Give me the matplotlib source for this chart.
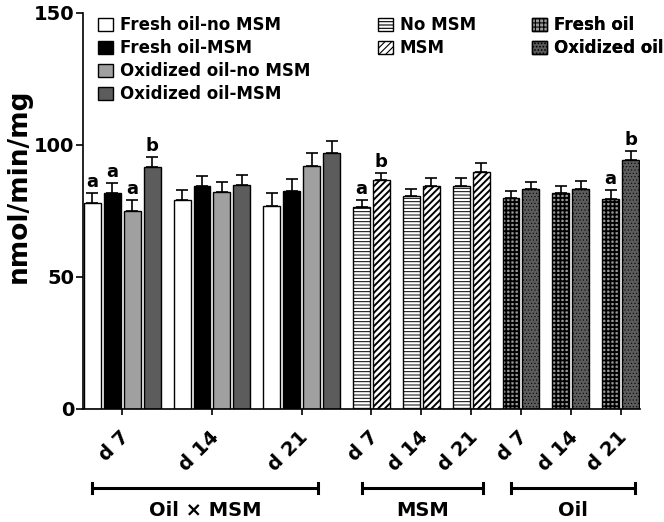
import numpy as np
import matplotlib
matplotlib.use('Agg')
import matplotlib.pyplot as plt
import matplotlib.transforms as mtransforms

plt.rcParams['font.family'] = ['DejaVu Sans']
plt.rcParams['font.weight'] = 'bold'
plt.rcParams['hatch.linewidth'] = 0.8

days = ['d 7', 'd 14', 'd 21']

# Oil x MSM section
oxm_names = ['Fresh oil-no MSM', 'Fresh oil-MSM', 'Oxidized oil-no MSM', 'Oxidized oil-MSM']
oxm_vals = [[77.9, 79.2, 76.9],
            [81.7, 84.6, 82.5],
            [75.1, 82.3, 92.0],
            [91.6, 84.7, 97.0]]
oxm_err = [[4.0, 3.8, 4.8],
           [3.9, 3.8, 4.5],
           [4.0, 3.8, 4.9],
           [3.9, 3.9, 4.6]]
oxm_sig = [['a', '', ''], ['a', '', ''], ['a', '', ''], ['b', '', '']]

# MSM main effect
msm_names = ['No MSM', 'MSM']
msm_vals = [[76.4, 80.6, 84.4],
            [86.6, 84.6, 89.8]]
msm_err = [[2.8, 2.7, 3.2],
           [2.8, 2.9, 3.3]]
msm_sig = [['a', '', ''], ['b', '', '']]

# Oil main effect
oil_names = ['Fresh oil', 'Oxidized oil']
oil_vals = [[79.8, 81.8, 79.7],
            [83.2, 83.4, 94.4]]
oil_err = [[2.9, 2.8, 3.2],
           [2.8, 3.0, 3.3]]
oil_sig = [['', '', 'a'], ['', '', 'b']]

section_names = ['Oil \u00d7 MSM', 'MSM', 'Oil']

styles = {
    'Fresh oil-no MSM': dict(color='white', hatch=None, hlw=None),
    'Fresh oil-MSM': dict(color='black', hatch=None, hlw=None),
    'Oxidized oil-no MSM': dict(color='#a0a0a0', hatch=None, hlw=None),
    'Oxidized oil-MSM': dict(color='#5c5c5c', hatch=None, hlw=None),
    'No MSM': dict(color='white', hatch='-----', hlw=0.7),
    'MSM': dict(color='white', hatch='/////', hlw=1.4),
    'Fresh oil': dict(color='#9a9a9a', hatch='++++', hlw=1.3),
    'Oxidized oil': dict(color='#5c5c5c', hatch='.....', hlw=0.4),
}

fig = plt.figure(figsize=(6.64, 5.22), dpi=100)
ax = fig.add_axes([83/664, 113/522, 557/664, 396/522])

sections = [(oxm_names, oxm_vals, oxm_err, oxm_sig),
            (msm_names, msm_vals, msm_err, msm_sig),
            (oil_names, oil_vals, oil_err, oil_sig)]

bw = 0.85
pos = 0.0
ticks = []
ticklabels = []
handles = []
for names, vals, errs, sigs in sections:
    n = len(names)
    xs_by_series = [[] for _ in range(n)]
    for d in range(len(days)):
        xs = pos + np.arange(n)
        for i in range(n):
            xs_by_series[i].append(xs[i])
        ticks.append(xs.mean())
        ticklabels.append(days[d])
        pos += n + 0.5
    sec_handles = []
    for i, name in enumerate(names):
        st = styles[name]
        bars = ax.bar(xs_by_series[i], vals[i], width=bw, color=st['color'],
                      edgecolor='black', linewidth=1.0, hatch=st['hatch'],
                      label=name, zorder=2)
        if st['hlw'] is not None:
            for b in bars:
                try:
                    b.set_hatch_linewidth(st['hlw'])
                except AttributeError:
                    pass
        ax.errorbar(xs_by_series[i], vals[i],
                    yerr=[np.zeros(len(days)), errs[i]], fmt='none',
                    ecolor='black', elinewidth=1.2, capsize=4, capthick=1.2,
                    zorder=1)
        for x, v, e, s in zip(xs_by_series[i], vals[i], errs[i], sigs[i]):
            if s:
                ax.text(x, v + e + 2.3, s, ha='center', va='baseline',
                        fontsize=13, fontweight='bold')
        sec_handles.append(bars)
    handles.append(sec_handles)

ax.set_xlim(-0.47, pos - 1.5 + 0.47)
ax.set_ylim(0, 150)
ax.set_yticks([0, 50, 100, 150])
ax.set_xticks(ticks)
ax.set_xticklabels(ticklabels, rotation=45, ha='right', va='top',
                   rotation_mode='anchor', fontsize=14, fontweight='bold')
ax.tick_params(axis='x', length=4, width=1.2, pad=9)
ax.tick_params(axis='y', length=5, width=1.2, pad=1, labelsize=14)
# nudge rotated day labels a little to the left
shift = mtransforms.ScaledTranslation(-3 / 100, 0, fig.dpi_scale_trans)
for lab in ax.get_xticklabels():
    lab.set_transform(lab.get_transform() + shift)
for lab in ax.get_yticklabels():
    lab.set_fontweight('bold')
for sp in ['top', 'right']:
    ax.spines[sp].set_visible(False)
for sp in ['left', 'bottom']:
    ax.spines[sp].set_linewidth(1.2)

ax.set_ylabel('nmol/min/mg', fontsize=19, fontweight='bold')
ax.yaxis.set_label_coords(-0.092, 0.563)

# section brackets under the axis
trans = mtransforms.blended_transform_factory(ax.transData, ax.transAxes)
bracket_ends = [(0.0, 11.3), (13.5, 19.6), (21.0, 27.2)]
for (x0, x1), name in zip(bracket_ends, section_names):
    ax.plot([x0, x1], [-0.2005, -0.2005], color='black', lw=2.2,
            transform=trans, clip_on=False, solid_capstyle='butt')
    for xe in (x0, x1):
        ax.plot([xe, xe], [-0.188, -0.213], color='black', lw=2.2,
                transform=trans, clip_on=False)
    ax.text((x0 + x1) / 2, -0.2556, name, transform=trans, ha='center',
            va='center', fontsize=14, fontweight='bold')

legend_x = [98, 378, 532]
for k, (hs, names) in enumerate(zip(handles, [oxm_names, msm_names, oil_names])):
    leg = ax.legend(hs, names, loc='upper left',
                    bbox_to_anchor=(legend_x[k] / 664, 1 - 16 / 522),
                    bbox_transform=fig.transFigure, frameon=False,
                    handlelength=0.9, handleheight=0.8,
                    handletextpad=0.4, labelspacing=0.3, borderpad=0,
                    borderaxespad=0, prop={'weight': 'bold', 'size': 12})
    ax.add_artist(leg)

fig.savefig('out.png', dpi=100)
